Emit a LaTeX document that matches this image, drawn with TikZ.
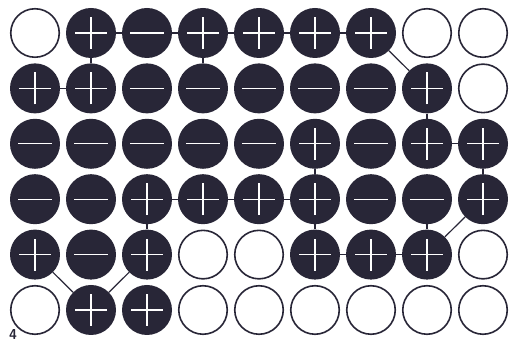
\documentclass[tikz,border=0pt]{standalone}
\usepackage{xcolor}
\usepackage{tikz}

\definecolor{ink}{RGB}{40,38,55}

\begin{document}
\begin{tikzpicture}[x=1pt,y=-1pt,
spot/.style={circle,minimum size=50pt,inner sep=0pt},
signline/.style={white,line width=1.2pt},
plusdot/.style={spot,fill=ink,path picture={
\draw[signline] ([xshift=-16pt]path picture bounding box.center) -- ([xshift=16pt]path picture bounding box.center);
\draw[signline] ([yshift=-16pt]path picture bounding box.center) -- ([yshift=16pt]path picture bounding box.center);}},
minusdot/.style={spot,fill=ink,path picture={
\draw[signline] ([xshift=-17pt]path picture bounding box.center) -- ([xshift=17pt]path picture bounding box.center);}},
emptydot/.style={spot,draw=ink,line width=1.6pt,fill=white,minimum size=48.5pt},
link/.style={ink,line width=1.2pt}]
\useasboundingbox[fill=white] (0,0) rectangle (509,344);
% grid of charges, one row per line
\foreach \row [count=\r] in {
{emptydot,plusdot,minusdot,plusdot,plusdot,plusdot,plusdot,emptydot,emptydot},
{plusdot,plusdot,minusdot,minusdot,minusdot,minusdot,minusdot,plusdot,emptydot},
{minusdot,minusdot,minusdot,minusdot,minusdot,plusdot,minusdot,plusdot,plusdot},
{minusdot,minusdot,plusdot,plusdot,plusdot,plusdot,minusdot,minusdot,plusdot},
{plusdot,minusdot,plusdot,emptydot,emptydot,plusdot,plusdot,plusdot,emptydot},
{emptydot,plusdot,plusdot,emptydot,emptydot,emptydot,emptydot,emptydot,emptydot}}
\foreach \kind [count=\c] in \row
\node[\kind] (r\r c\c) at ({35+56*(\c-1)},{33+55.4*(\r-1)}) {};
% bonds
\foreach \a/\b in {r1c2/r1c3,r1c3/r1c4,r1c4/r1c5,r1c5/r1c6,r1c6/r1c7,
r1c2/r2c2,r1c4/r2c4,r1c7/r2c8,r2c1/r2c2,r2c8/r3c8,
r3c8/r3c9,r3c6/r4c6,r3c9/r4c9,
r4c3/r4c4,r4c4/r4c5,r4c5/r4c6,r4c3/r5c3,r4c6/r5c6,r4c8/r5c8,r4c9/r5c8,
r5c6/r5c7,r5c7/r5c8,r5c1/r6c2,r5c3/r6c2}
\draw[link] (\a) -- (\b);
\node[anchor=south,font=\sffamily\bfseries\Large,text=ink,inner sep=0pt] (fignum) at (13,340) {4};
\end{tikzpicture}
\end{document}
